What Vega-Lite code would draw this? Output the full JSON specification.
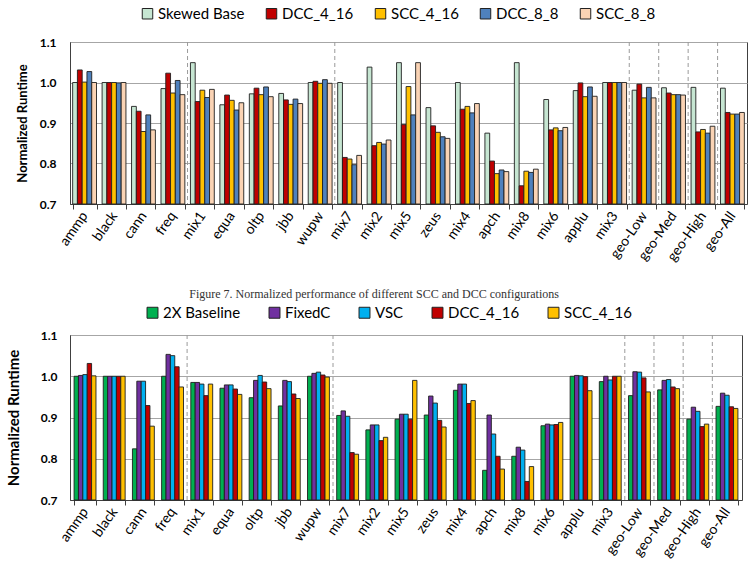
{
  "$schema": "https://vega.github.io/schema/vega-lite/v6.json",
  "background": "white",
  "padding": 5,
  "config": {
    "font": "Lato",
    "view": {"stroke": "#404040", "strokeWidth": 1},
    "axis": {"gridColor": "#a6a6a6", "domainColor": "#404040", "tickColor": "#404040", "labelColor": "#000", "titleColor": "#000"},
    "legend": {"symbolType": "square", "symbolStrokeColor": "#222", "symbolStrokeWidth": 1, "labelColor": "#000", "direction": "horizontal", "columns": 5}
  },
  "datasets": {
    "top": [
      {"bench":"ammp","config":"Skewed Base","value":1.0},{"bench":"ammp","config":"DCC_4_16","value":1.031},{"bench":"ammp","config":"SCC_4_16","value":1.001},{"bench":"ammp","config":"DCC_8_8","value":1.027},{"bench":"ammp","config":"SCC_8_8","value":1.0},
      {"bench":"black","config":"Skewed Base","value":1.0},{"bench":"black","config":"DCC_4_16","value":1.0},{"bench":"black","config":"SCC_4_16","value":1.0},{"bench":"black","config":"DCC_8_8","value":0.999},{"bench":"black","config":"SCC_8_8","value":1.0},
      {"bench":"cann","config":"Skewed Base","value":0.941},{"bench":"cann","config":"DCC_4_16","value":0.929},{"bench":"cann","config":"SCC_4_16","value":0.879},{"bench":"cann","config":"DCC_8_8","value":0.92},{"bench":"cann","config":"SCC_8_8","value":0.883},
      {"bench":"freq","config":"Skewed Base","value":0.985},{"bench":"freq","config":"DCC_4_16","value":1.023},{"bench":"freq","config":"SCC_4_16","value":0.974},{"bench":"freq","config":"DCC_8_8","value":1.005},{"bench":"freq","config":"SCC_8_8","value":0.97},
      {"bench":"mix1","config":"Skewed Base","value":1.049},{"bench":"mix1","config":"DCC_4_16","value":0.953},{"bench":"mix1","config":"SCC_4_16","value":0.981},{"bench":"mix1","config":"DCC_8_8","value":0.963},{"bench":"mix1","config":"SCC_8_8","value":0.983},
      {"bench":"equa","config":"Skewed Base","value":0.945},{"bench":"equa","config":"DCC_4_16","value":0.969},{"bench":"equa","config":"SCC_4_16","value":0.956},{"bench":"equa","config":"DCC_8_8","value":0.932},{"bench":"equa","config":"SCC_8_8","value":0.95},
      {"bench":"oltp","config":"Skewed Base","value":0.972},{"bench":"oltp","config":"DCC_4_16","value":0.986},{"bench":"oltp","config":"SCC_4_16","value":0.97},{"bench":"oltp","config":"DCC_8_8","value":0.989},{"bench":"oltp","config":"SCC_8_8","value":0.965},
      {"bench":"jbb","config":"Skewed Base","value":0.973},{"bench":"jbb","config":"DCC_4_16","value":0.957},{"bench":"jbb","config":"SCC_4_16","value":0.946},{"bench":"jbb","config":"DCC_8_8","value":0.959},{"bench":"jbb","config":"SCC_8_8","value":0.948},
      {"bench":"wupw","config":"Skewed Base","value":1.0},{"bench":"wupw","config":"DCC_4_16","value":1.003},{"bench":"wupw","config":"SCC_4_16","value":0.998},{"bench":"wupw","config":"DCC_8_8","value":1.007},{"bench":"wupw","config":"SCC_8_8","value":0.998},
      {"bench":"mix7","config":"Skewed Base","value":1.0},{"bench":"mix7","config":"DCC_4_16","value":0.815},{"bench":"mix7","config":"SCC_4_16","value":0.811},{"bench":"mix7","config":"DCC_8_8","value":0.797},{"bench":"mix7","config":"SCC_8_8","value":0.82},
      {"bench":"mix2","config":"Skewed Base","value":1.038},{"bench":"mix2","config":"DCC_4_16","value":0.844},{"bench":"mix2","config":"SCC_4_16","value":0.852},{"bench":"mix2","config":"DCC_8_8","value":0.848},{"bench":"mix2","config":"SCC_8_8","value":0.858},
      {"bench":"mix5","config":"Skewed Base","value":1.049},{"bench":"mix5","config":"DCC_4_16","value":0.896},{"bench":"mix5","config":"SCC_4_16","value":0.99},{"bench":"mix5","config":"DCC_8_8","value":0.92},{"bench":"mix5","config":"SCC_8_8","value":1.049},
      {"bench":"zeus","config":"Skewed Base","value":0.938},{"bench":"zeus","config":"DCC_4_16","value":0.893},{"bench":"zeus","config":"SCC_4_16","value":0.877},{"bench":"zeus","config":"DCC_8_8","value":0.866},{"bench":"zeus","config":"SCC_8_8","value":0.862},
      {"bench":"mix4","config":"Skewed Base","value":1.0},{"bench":"mix4","config":"DCC_4_16","value":0.934},{"bench":"mix4","config":"SCC_4_16","value":0.941},{"bench":"mix4","config":"DCC_8_8","value":0.925},{"bench":"mix4","config":"SCC_8_8","value":0.948},
      {"bench":"apch","config":"Skewed Base","value":0.875},{"bench":"apch","config":"DCC_4_16","value":0.806},{"bench":"apch","config":"SCC_4_16","value":0.775},{"bench":"apch","config":"DCC_8_8","value":0.784},{"bench":"apch","config":"SCC_8_8","value":0.78},
      {"bench":"mix8","config":"Skewed Base","value":1.049},{"bench":"mix8","config":"DCC_4_16","value":0.745},{"bench":"mix8","config":"SCC_4_16","value":0.781},{"bench":"mix8","config":"DCC_8_8","value":0.778},{"bench":"mix8","config":"SCC_8_8","value":0.786},
      {"bench":"mix6","config":"Skewed Base","value":0.958},{"bench":"mix6","config":"DCC_4_16","value":0.883},{"bench":"mix6","config":"SCC_4_16","value":0.888},{"bench":"mix6","config":"DCC_8_8","value":0.881},{"bench":"mix6","config":"SCC_8_8","value":0.889},
      {"bench":"applu","config":"Skewed Base","value":0.98},{"bench":"applu","config":"DCC_4_16","value":0.999},{"bench":"applu","config":"SCC_4_16","value":0.965},{"bench":"applu","config":"DCC_8_8","value":0.989},{"bench":"applu","config":"SCC_8_8","value":0.966},
      {"bench":"mix3","config":"Skewed Base","value":1.0},{"bench":"mix3","config":"DCC_4_16","value":1.0},{"bench":"mix3","config":"SCC_4_16","value":1.0},{"bench":"mix3","config":"DCC_8_8","value":1.0},{"bench":"mix3","config":"SCC_8_8","value":1.0},
      {"bench":"geo-Low","config":"Skewed Base","value":0.981},{"bench":"geo-Low","config":"DCC_4_16","value":0.996},{"bench":"geo-Low","config":"SCC_4_16","value":0.962},{"bench":"geo-Low","config":"DCC_8_8","value":0.988},{"bench":"geo-Low","config":"SCC_8_8","value":0.962},
      {"bench":"geo-Med","config":"Skewed Base","value":0.987},{"bench":"geo-Med","config":"DCC_4_16","value":0.974},{"bench":"geo-Med","config":"SCC_4_16","value":0.97},{"bench":"geo-Med","config":"DCC_8_8","value":0.97},{"bench":"geo-Med","config":"SCC_8_8","value":0.969},
      {"bench":"geo-High","config":"Skewed Base","value":0.988},{"bench":"geo-High","config":"DCC_4_16","value":0.878},{"bench":"geo-High","config":"SCC_4_16","value":0.884},{"bench":"geo-High","config":"DCC_8_8","value":0.875},{"bench":"geo-High","config":"SCC_8_8","value":0.892},
      {"bench":"geo-All","config":"Skewed Base","value":0.986},{"bench":"geo-All","config":"DCC_4_16","value":0.926},{"bench":"geo-All","config":"SCC_4_16","value":0.922},{"bench":"geo-All","config":"DCC_8_8","value":0.922},{"bench":"geo-All","config":"SCC_8_8","value":0.926}
    ],
    "bottom": [
      {"bench":"ammp","config":"2X Baseline","value":1.0},{"bench":"ammp","config":"FixedC","value":1.002},{"bench":"ammp","config":"VSC","value":1.004},{"bench":"ammp","config":"DCC_4_16","value":1.031},{"bench":"ammp","config":"SCC_4_16","value":1.001},
      {"bench":"black","config":"2X Baseline","value":1.0},{"bench":"black","config":"FixedC","value":1.0},{"bench":"black","config":"VSC","value":1.0},{"bench":"black","config":"DCC_4_16","value":1.0},{"bench":"black","config":"SCC_4_16","value":1.0},
      {"bench":"cann","config":"2X Baseline","value":0.824},{"bench":"cann","config":"FixedC","value":0.988},{"bench":"cann","config":"VSC","value":0.988},{"bench":"cann","config":"DCC_4_16","value":0.929},{"bench":"cann","config":"SCC_4_16","value":0.879},
      {"bench":"freq","config":"2X Baseline","value":1.0},{"bench":"freq","config":"FixedC","value":1.053},{"bench":"freq","config":"VSC","value":1.05},{"bench":"freq","config":"DCC_4_16","value":1.023},{"bench":"freq","config":"SCC_4_16","value":0.974},
      {"bench":"mix1","config":"2X Baseline","value":0.985},{"bench":"mix1","config":"FixedC","value":0.985},{"bench":"mix1","config":"VSC","value":0.981},{"bench":"mix1","config":"DCC_4_16","value":0.953},{"bench":"mix1","config":"SCC_4_16","value":0.981},
      {"bench":"equa","config":"2X Baseline","value":0.971},{"bench":"equa","config":"FixedC","value":0.979},{"bench":"equa","config":"VSC","value":0.979},{"bench":"equa","config":"DCC_4_16","value":0.969},{"bench":"equa","config":"SCC_4_16","value":0.956},
      {"bench":"oltp","config":"2X Baseline","value":0.948},{"bench":"oltp","config":"FixedC","value":0.99},{"bench":"oltp","config":"VSC","value":1.002},{"bench":"oltp","config":"DCC_4_16","value":0.986},{"bench":"oltp","config":"SCC_4_16","value":0.97},
      {"bench":"jbb","config":"2X Baseline","value":0.928},{"bench":"jbb","config":"FixedC","value":0.99},{"bench":"jbb","config":"VSC","value":0.987},{"bench":"jbb","config":"DCC_4_16","value":0.957},{"bench":"jbb","config":"SCC_4_16","value":0.946},
      {"bench":"wupw","config":"2X Baseline","value":1.0},{"bench":"wupw","config":"FixedC","value":1.007},{"bench":"wupw","config":"VSC","value":1.01},{"bench":"wupw","config":"DCC_4_16","value":1.003},{"bench":"wupw","config":"SCC_4_16","value":0.998},
      {"bench":"mix7","config":"2X Baseline","value":0.905},{"bench":"mix7","config":"FixedC","value":0.916},{"bench":"mix7","config":"VSC","value":0.903},{"bench":"mix7","config":"DCC_4_16","value":0.815},{"bench":"mix7","config":"SCC_4_16","value":0.811},
      {"bench":"mix2","config":"2X Baseline","value":0.87},{"bench":"mix2","config":"FixedC","value":0.882},{"bench":"mix2","config":"VSC","value":0.882},{"bench":"mix2","config":"DCC_4_16","value":0.844},{"bench":"mix2","config":"SCC_4_16","value":0.852},
      {"bench":"mix5","config":"2X Baseline","value":0.896},{"bench":"mix5","config":"FixedC","value":0.908},{"bench":"mix5","config":"VSC","value":0.908},{"bench":"mix5","config":"DCC_4_16","value":0.896},{"bench":"mix5","config":"SCC_4_16","value":0.99},
      {"bench":"zeus","config":"2X Baseline","value":0.906},{"bench":"zeus","config":"FixedC","value":0.952},{"bench":"zeus","config":"VSC","value":0.935},{"bench":"zeus","config":"DCC_4_16","value":0.893},{"bench":"zeus","config":"SCC_4_16","value":0.877},
      {"bench":"mix4","config":"2X Baseline","value":0.966},{"bench":"mix4","config":"FixedC","value":0.981},{"bench":"mix4","config":"VSC","value":0.981},{"bench":"mix4","config":"DCC_4_16","value":0.934},{"bench":"mix4","config":"SCC_4_16","value":0.941},
      {"bench":"apch","config":"2X Baseline","value":0.772},{"bench":"apch","config":"FixedC","value":0.906},{"bench":"apch","config":"VSC","value":0.86},{"bench":"apch","config":"DCC_4_16","value":0.806},{"bench":"apch","config":"SCC_4_16","value":0.775},
      {"bench":"mix8","config":"2X Baseline","value":0.806},{"bench":"mix8","config":"FixedC","value":0.828},{"bench":"mix8","config":"VSC","value":0.821},{"bench":"mix8","config":"DCC_4_16","value":0.745},{"bench":"mix8","config":"SCC_4_16","value":0.781},
      {"bench":"mix6","config":"2X Baseline","value":0.88},{"bench":"mix6","config":"FixedC","value":0.884},{"bench":"mix6","config":"VSC","value":0.882},{"bench":"mix6","config":"DCC_4_16","value":0.883},{"bench":"mix6","config":"SCC_4_16","value":0.888},
      {"bench":"applu","config":"2X Baseline","value":1.0},{"bench":"applu","config":"FixedC","value":1.002},{"bench":"applu","config":"VSC","value":1.001},{"bench":"applu","config":"DCC_4_16","value":0.999},{"bench":"applu","config":"SCC_4_16","value":0.965},
      {"bench":"mix3","config":"2X Baseline","value":0.987},{"bench":"mix3","config":"FixedC","value":1.0},{"bench":"mix3","config":"VSC","value":0.991},{"bench":"mix3","config":"DCC_4_16","value":1.0},{"bench":"mix3","config":"SCC_4_16","value":1.0},
      {"bench":"geo-Low","config":"2X Baseline","value":0.953},{"bench":"geo-Low","config":"FixedC","value":1.011},{"bench":"geo-Low","config":"VSC","value":1.01},{"bench":"geo-Low","config":"DCC_4_16","value":0.996},{"bench":"geo-Low","config":"SCC_4_16","value":0.962},
      {"bench":"geo-Med","config":"2X Baseline","value":0.967},{"bench":"geo-Med","config":"FixedC","value":0.99},{"bench":"geo-Med","config":"VSC","value":0.992},{"bench":"geo-Med","config":"DCC_4_16","value":0.974},{"bench":"geo-Med","config":"SCC_4_16","value":0.97},
      {"bench":"geo-High","config":"2X Baseline","value":0.896},{"bench":"geo-High","config":"FixedC","value":0.925},{"bench":"geo-High","config":"VSC","value":0.915},{"bench":"geo-High","config":"DCC_4_16","value":0.878},{"bench":"geo-High","config":"SCC_4_16","value":0.884},
      {"bench":"geo-All","config":"2X Baseline","value":0.927},{"bench":"geo-All","config":"FixedC","value":0.959},{"bench":"geo-All","config":"VSC","value":0.954},{"bench":"geo-All","config":"DCC_4_16","value":0.926},{"bench":"geo-All","config":"SCC_4_16","value":0.922}
    ],
    "groupBreaks": [
      {"bench":"freq"},{"bench":"wupw"},{"bench":"mix3"},{"bench":"geo-Low"},{"bench":"geo-Med"},{"bench":"geo-High"}
    ]
  },
  "align": "none",
  "spacing": 23,
  "resolve": {
    "scale": {"x": "independent", "xOffset": "independent", "y": "independent", "color": "independent"},
    "legend": {"color": "independent"}
  },
  "vconcat": [
    {
      "width": 677,
      "height": 162,
      "layer": [
        {
          "data": {"name": "groupBreaks"},
          "mark": {"type": "rule", "color": "#9a9a9a", "strokeDash": [4, 3], "strokeWidth": 1, "xOffset": 2.7},
          "encoding": {"x": {"field": "bench", "type": "nominal", "bandPosition": 1}}
        },
        {
          "data": {"name": "top"},
          "mark": {"type": "bar", "stroke": "#1f1f1f", "strokeWidth": 0.9},
          "encoding": {
            "x": {
              "field": "bench", "type": "nominal",
              "scale": {"domain": ["ammp","black","cann","freq","mix1","equa","oltp","jbb","wupw","mix7","mix2","mix5","zeus","mix4","apch","mix8","mix6","applu","mix3","geo-Low","geo-Med","geo-High","geo-All"], "paddingInner": 0.19, "paddingOuter": 0.09},
              "axis": {"title": null, "labelAngle": -55, "labelFontSize": 14, "labelPadding": 4, "tickBand": "extent", "tickSize": 5, "grid": false}
            },
            "xOffset": {"field": "config", "type": "nominal", "scale": {"domain": ["Skewed Base","DCC_4_16","SCC_4_16","DCC_8_8","SCC_8_8"]}},
            "y": {
              "field": "value", "type": "quantitative",
              "scale": {"domain": [0.7, 1.1], "zero": false, "nice": false},
              "axis": {"title": "Normalized Runtime", "titleFontSize": 13, "titleFontWeight": "bold", "titlePadding": 10, "values": [0.7, 0.8, 0.9, 1.0, 1.1], "format": ".1f", "labelFontSize": 12, "labelFontWeight": "bold", "labelPadding": 14, "ticks": false, "grid": true}
            },
            "y2": {"datum": 0.7},
            "color": {
              "field": "config", "type": "nominal",
              "scale": {"domain": ["Skewed Base","DCC_4_16","SCC_4_16","DCC_8_8","SCC_8_8"], "range": ["#c6e6d2","#c00000","#ffc000","#4f81bd","#fad3b4"]},
              "legend": {"title": null, "orient": "none", "legendX": 70, "legendY": -36, "labelFontSize": 15, "symbolSize": 110, "columnPadding": 19, "labelOffset": 3}
            }
          }
        }
      ]
    },
    {
      "width": 672,
      "height": 165,
      "title": {"text": "Figure 7. Normalized performance of different SCC and DCC configurations", "font": "Liberation Serif", "fontSize": 12, "fontWeight": "normal", "color": "#333333", "anchor": "middle", "frame": "bounds", "offset": 4},
      "layer": [
        {
          "data": {"name": "groupBreaks"},
          "mark": {"type": "rule", "color": "#9a9a9a", "strokeDash": [4, 3], "strokeWidth": 1, "xOffset": 3.6},
          "encoding": {"x": {"field": "bench", "type": "nominal", "bandPosition": 1}}
        },
        {
          "data": {"name": "bottom"},
          "mark": {"type": "bar", "stroke": "#1f1f1f", "strokeWidth": 0.9},
          "encoding": {
            "x": {
              "field": "bench", "type": "nominal",
              "scale": {"domain": ["ammp","black","cann","freq","mix1","equa","oltp","jbb","wupw","mix7","mix2","mix5","zeus","mix4","apch","mix8","mix6","applu","mix3","geo-Low","geo-Med","geo-High","geo-All"], "paddingInner": 0.25, "paddingOuter": 0.14},
              "axis": {"title": null, "labelAngle": -55, "labelFontSize": 14, "labelPadding": 4, "tickBand": "extent", "tickSize": 5, "grid": false}
            },
            "xOffset": {"field": "config", "type": "nominal", "scale": {"domain": ["2X Baseline","FixedC","VSC","DCC_4_16","SCC_4_16"]}},
            "y": {
              "field": "value", "type": "quantitative",
              "scale": {"domain": [0.7, 1.1], "zero": false, "nice": false},
              "axis": {"title": "Normalized Runtime", "titleFontSize": 15, "titleFontWeight": "bold", "titlePadding": 19, "values": [0.7, 0.8, 0.9, 1.0, 1.1], "format": ".1f", "labelFontSize": 12, "labelFontWeight": "bold", "labelPadding": 13, "ticks": false, "grid": true}
            },
            "y2": {"datum": 0.7},
            "color": {
              "field": "config", "type": "nominal",
              "scale": {"domain": ["2X Baseline","FixedC","VSC","DCC_4_16","SCC_4_16"], "range": ["#00b050","#7030a0","#00b0f0","#c00000","#ffc000"]},
              "legend": {"title": null, "orient": "none", "legendX": 75, "legendY": -30, "labelFontSize": 15, "symbolSize": 120, "columnPadding": 26, "labelOffset": 3}
            }
          }
        }
      ]
    }
  ]
}
